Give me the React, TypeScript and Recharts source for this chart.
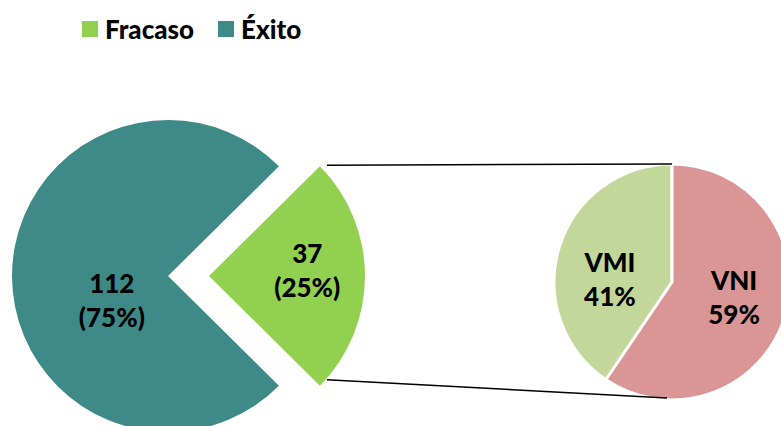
import { PieChart, Pie, Cell, Legend } from 'recharts'

const outcomeNames = ['Fracaso', 'Éxito']
const outcomeValues = [37, 112]
const breakdownNames = ['VMI', 'VNI']
const breakdownValues = [15, 22]

const OUTCOME_COLORS = ['#92d050', '#3e8a88']
const BREAKDOWN_COLORS = ['#c4d79b', '#d99694']
const FONT = 'Lato, "Open Sans", sans-serif'

const W = 781
const H = 426
const MAIN = { cx: 168, cy: 276, r: 156 }
const EXPLODE = 41
const SUB = { cx: 672, cy: 282, r: 118 }

const outcomes = outcomeNames.map((name, i) => ({ name, value: outcomeValues[i] }))
const breakdown = breakdownNames.map((name, i) => ({ name, value: breakdownValues[i] }))
const total = outcomeValues.reduce((a, b) => a + b, 0)
const subTotal = breakdownValues.reduce((a, b) => a + b, 0)
// center the exploded slice on the right (0 deg)
const mainStart = -(180 * outcomeValues[0]) / total
const RAD = Math.PI / 180

// label placement tweaks: [radius fraction, dy]
const mainLabelPos = [[0.63, -5], [0.36, 25]]
const subLabelPos = [[0.55, 17], [0.55, -3]]

const pct = (v: number, t: number) => `${Math.round((v / t) * 100)}%`

const twoLine = (x: number, y: number, a: string, b: string, key: string) => (
  <text key={key} x={x} y={y} textAnchor="middle" fontFamily={FONT} fontWeight={900} fontSize={26} fill="#000">
    <tspan x={x} dy={-8}>{a}</tspan>
    <tspan x={x} dy={34}>{b}</tspan>
  </text>
)

const mainLabel = (visible: number) => (p: any) => {
  if (p.index !== visible) return null
  const [f, dy] = mainLabelPos[p.index]
  const x = p.cx + p.outerRadius * f * Math.cos(-p.midAngle * RAD)
  const y = p.cy + p.outerRadius * f * Math.sin(-p.midAngle * RAD) + dy
  return twoLine(x, y, String(p.value), `(${pct(p.value, total)})`, `m${p.index}`)
}

const subLabel = (p: any) => {
  const [f, dy] = subLabelPos[p.index]
  const x = p.cx + p.outerRadius * f * Math.cos(-p.midAngle * RAD)
  const y = p.cy + p.outerRadius * f * Math.sin(-p.midAngle * RAD) + dy
  return twoLine(x, y, p.name, pct(p.value, subTotal), `s${p.index}`)
}

const LegendContent = () => (
  <div style={{ display: 'flex', gap: 24, fontFamily: FONT, fontWeight: 900, fontSize: 26, color: '#000' }}>
    {outcomeNames.map((n, i) => (
      <div key={n} style={{ display: 'flex', alignItems: 'center', gap: 7 }}>
        <span style={{ width: 16, height: 16, background: OUTCOME_COLORS[i], display: 'inline-block' }} />
        <span>{n}</span>
      </div>
    ))}
  </div>
)

export default function App() {
  const half = -mainStart * RAD
  const ex = MAIN.cx + EXPLODE
  const topTip = { x: ex + MAIN.r * Math.cos(half), y: MAIN.cy - MAIN.r * Math.sin(half) }
  const botTip = { x: ex + MAIN.r * Math.cos(half), y: MAIN.cy + MAIN.r * Math.sin(half) }

  return (
    <div style={{ position: 'absolute', left: 0, top: 0, width: W, height: H, background: '#fff' }}>
      <PieChart width={W} height={H} margin={{ top: 0, right: 0, bottom: 0, left: 0 }}>
        <Legend content={<LegendContent />} wrapperStyle={{ top: 13, left: 82, width: 'auto' }} />
        <Pie
          data={outcomes}
          dataKey="value"
          nameKey="name"
          cx={MAIN.cx}
          cy={MAIN.cy}
          outerRadius={MAIN.r}
          startAngle={mainStart}
          endAngle={mainStart + 360}
          stroke="none"
          labelLine={false}
          label={mainLabel(1)}
          isAnimationActive={false}
        >
          {outcomes.map((o, i) => (
            <Cell key={o.name} fill={i === 1 ? OUTCOME_COLORS[i] : 'transparent'} />
          ))}
        </Pie>
        <Pie
          data={outcomes}
          dataKey="value"
          nameKey="name"
          cx={ex}
          cy={MAIN.cy}
          outerRadius={MAIN.r}
          startAngle={mainStart}
          endAngle={mainStart + 360}
          stroke="none"
          labelLine={false}
          label={mainLabel(0)}
          isAnimationActive={false}
        >
          {outcomes.map((o, i) => (
            <Cell key={o.name} fill={i === 0 ? OUTCOME_COLORS[i] : 'transparent'} />
          ))}
        </Pie>
        <Pie
          data={breakdown}
          dataKey="value"
          nameKey="name"
          cx={SUB.cx}
          cy={SUB.cy}
          outerRadius={SUB.r}
          startAngle={90}
          endAngle={450}
          stroke="#fff"
          strokeWidth={3}
          labelLine={false}
          label={subLabel}
          isAnimationActive={false}
        >
          {breakdown.map((b, i) => (
            <Cell key={b.name} fill={BREAKDOWN_COLORS[i]} />
          ))}
        </Pie>
      </PieChart>
      <svg width={W} height={H} style={{ position: 'absolute', left: 0, top: 0, pointerEvents: 'none' }}>
        <line x1={topTip.x + 7} y1={topTip.y - 1} x2={SUB.cx} y2={SUB.cy - SUB.r} stroke="#000" strokeWidth={1.5} />
        <line x1={botTip.x + 7} y1={botTip.y - 6} x2={SUB.cx - 5} y2={SUB.cy + SUB.r - 2} stroke="#000" strokeWidth={1.5} />
      </svg>
    </div>
  )
}
